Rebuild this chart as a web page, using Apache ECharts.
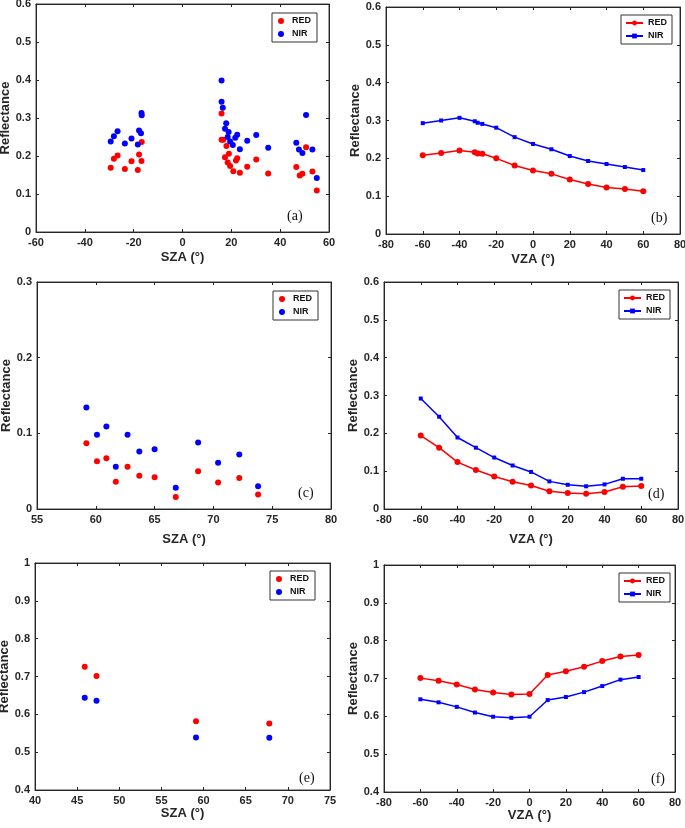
<!DOCTYPE html>
<html>
<head>
<meta charset="utf-8">
<script src="https://cdn.jsdelivr.net/npm/echarts@6/dist/echarts.min.js"></script>
<style>
html,body{margin:0;padding:0;background:#fff;}
#chart{width:685px;height:828px;}
</style>
</head>
<body>
<div id="chart"></div>
<script>
// (a) SZA scatter
var aRedSza = [-29.4,-28.1,-26.6,-23.6,-20.9,-18.3,-17.8,-16.8,-16.7,16.0,16.0,16.7,18.0,17.4,19.0,18.5,19.5,20.8,21.9,22.4,23.5,26.5,30.2,35.1,46.6,48.0,49.1,50.6,53.2,55.0];
var aRedRef = [0.169,0.193,0.201,0.166,0.186,0.163,0.204,0.187,0.237,0.312,0.243,0.243,0.226,0.197,0.206,0.183,0.174,0.160,0.188,0.194,0.156,0.172,0.191,0.154,0.171,0.149,0.153,0.223,0.159,0.109];
var aNirSza = [-29.4,-28.1,-26.6,-23.6,-20.9,-18.3,-17.8,-17.0,-16.8,-16.7,16.0,16.0,16.5,17.9,17.4,18.9,18.5,19.5,20.6,21.6,22.4,23.5,26.5,30.2,35.1,46.6,47.7,49.1,50.6,53.2,55.0];
var aNirRef = [0.238,0.252,0.265,0.233,0.246,0.230,0.267,0.260,0.313,0.307,0.399,0.343,0.327,0.286,0.272,0.263,0.250,0.238,0.229,0.248,0.256,0.218,0.240,0.255,0.222,0.235,0.217,0.208,0.308,0.217,0.142];

// (b) VZA lines
var bVza = [-60,-50,-40,-31.7,-30.1,-27.6,-20,-10,0,10,20,30,40,50,60];
var bRed = [0.208,0.214,0.221,0.216,0.213,0.212,0.200,0.181,0.168,0.159,0.144,0.132,0.123,0.119,0.113];
var bNir = [0.293,0.300,0.307,0.298,0.294,0.291,0.281,0.256,0.238,0.224,0.206,0.193,0.185,0.177,0.169];

// (c) SZA scatter
var cSza = [59.2,60.1,60.9,61.7,62.7,63.7,65.0,66.8,68.7,70.4,72.2,73.8];
var cRed = [0.087,0.063,0.067,0.036,0.056,0.044,0.042,0.016,0.050,0.035,0.041,0.019];
var cNir = [0.134,0.098,0.109,0.056,0.098,0.076,0.079,0.028,0.088,0.061,0.072,0.030];

// (d) VZA lines
var dVza = [-60,-50,-40,-30,-20,-10,0,10,20,30,40,50,60];
var dRed = [0.194,0.162,0.124,0.103,0.086,0.072,0.062,0.047,0.042,0.040,0.045,0.059,0.061];
var dNir = [0.292,0.244,0.189,0.162,0.136,0.115,0.098,0.073,0.064,0.060,0.065,0.080,0.080];

// (e) SZA scatter
var eSza = [45.9,47.3,59.1,67.8];
var eRed = [0.726,0.701,0.582,0.576];
var eNir = [0.644,0.636,0.539,0.538];

// (f) VZA lines
var fVza = [-60,-50,-40,-30,-20,-10,0,10,20,30,40,50,60];
var fRed = [0.701,0.694,0.684,0.671,0.663,0.658,0.659,0.709,0.719,0.731,0.746,0.758,0.762];
var fNir = [0.645,0.637,0.625,0.610,0.599,0.596,0.599,0.643,0.651,0.664,0.680,0.697,0.704];

var chart = echarts.init(document.getElementById('chart'));

var ink = '#262626';
var RED = '#ff0000', BLUE = '#0000ff';

function zip(xs, ys) {
    return xs.map(function (x, i) { return [x, ys[i]]; });
}

// box: [left, top, width, height]
var panels = [
    {key:'a', box:[36,4,293,228], x:[-60,60,20], y:[0,0.6,0.1], xName:'SZA (°)', gap:19, kind:'scatter',
        red:zip(aRedSza,aRedRef), nir:zip(aNirSza,aNirRef), leg:[272,13], tag:[287,209]},
    {key:'b', box:[386,7,294,227], x:[-80,80,20], y:[0,0.6,0.1], xName:'VZA (°)', gap:19, kind:'line',
        red:zip(bVza,bRed), nir:zip(bVza,bNir), leg:[621,15], tag:[651,211]},
    {key:'c', box:[37,282,294,227], x:[55,80,5], y:[0,0.3,0.1], xName:'SZA (°)', gap:24, kind:'scatter',
        red:zip(cSza,cRed), nir:zip(cSza,cNir), leg:[273,291], tag:[298,486]},
    {key:'d', box:[384,282,294,227], x:[-80,80,20], y:[0,0.6,0.1], xName:'VZA (°)', gap:24, kind:'line',
        red:zip(dVza,dRed), nir:zip(dVza,dNir), leg:[619,290], tag:[648,487]},
    {key:'e', box:[35,563,295,227], x:[40,75,5], y:[0.4,1,0.1], xName:'SZA (°)', gap:17, kind:'scatter',
        red:zip(eSza,eRed), nir:zip(eSza,eNir), leg:[270,571], tag:[299,771]},
    {key:'f', box:[384,565,291,227], x:[-80,80,20], y:[0.4,1,0.1], xName:'VZA (°)', gap:17, kind:'line',
        red:zip(fVza,fRed), nir:zip(fVza,fNir), leg:[619,573], tag:[651,772]}
];

var grids = [], xAxes = [], yAxes = [], series = [], legends = [], texts = [];

var tickLabel = {color: ink, fontFamily: 'Liberation Sans', fontWeight: 'bold', fontSize: 11};
var nameStyle = {color: ink, fontFamily: 'Liberation Sans', fontWeight: 'bold', fontSize: 13};
var lineStyle = {show: true, onZero: false, lineStyle: {color: ink, width: 1}};
var tickStyle = {show: true, inside: true, length: 3, lineStyle: {color: ink}};

panels.forEach(function (p, i) {
    grids.push({
        left: p.box[0], top: p.box[1], width: p.box[2], height: p.box[3],
        show: true, borderColor: '#444', borderWidth: 1, backgroundColor: '#fff',
        containLabel: false, outerBoundsMode: 'none'
    });

    // bottom + top x axes (top one only carries the inside ticks)
    xAxes.push({
        type: 'value', gridIndex: i, position: 'bottom',
        min: p.x[0], max: p.x[1], interval: p.x[2],
        name: p.xName, nameLocation: 'middle', nameGap: p.gap, nameTextStyle: nameStyle,
        axisLine: lineStyle, axisTick: tickStyle,
        axisLabel: Object.assign({margin: 5, hideOverlap: false}, tickLabel),
        splitLine: {show: false}
    });
    xAxes.push({
        type: 'value', gridIndex: i, position: 'top',
        min: p.x[0], max: p.x[1], interval: p.x[2],
        axisLine: lineStyle, axisTick: tickStyle,
        axisLabel: {show: false}, splitLine: {show: false}
    });
    yAxes.push({
        type: 'value', gridIndex: i, position: 'left',
        min: p.y[0], max: p.y[1], interval: p.y[2],
        name: 'Reflectance', nameLocation: 'middle', nameGap: 23, nameTextStyle: nameStyle,
        axisLine: lineStyle, axisTick: tickStyle,
        axisLabel: Object.assign({margin: 5, hideOverlap: false}, tickLabel),
        splitLine: {show: false}
    });
    yAxes.push({
        type: 'value', gridIndex: i, position: 'right',
        min: p.y[0], max: p.y[1], interval: p.y[2],
        axisLine: lineStyle, axisTick: tickStyle,
        axisLabel: {show: false}, splitLine: {show: false}
    });

    var redName = 'RED_' + p.key, nirName = 'NIR_' + p.key;
    if (p.kind === 'scatter') {
        series.push({name: redName, type: 'scatter', xAxisIndex: 2 * i, yAxisIndex: 2 * i,
            symbol: 'circle', symbolSize: 6, itemStyle: {color: RED, opacity: 1}, data: p.red});
        series.push({name: nirName, type: 'scatter', xAxisIndex: 2 * i, yAxisIndex: 2 * i,
            symbol: 'circle', symbolSize: 6, itemStyle: {color: BLUE, opacity: 1}, data: p.nir});
    } else {
        series.push({name: redName, type: 'line', xAxisIndex: 2 * i, yAxisIndex: 2 * i,
            symbol: 'circle', symbolSize: 6, showAllSymbol: true,
            lineStyle: {color: RED, width: 1.5}, itemStyle: {color: RED}, data: p.red});
        series.push({name: nirName, type: 'line', xAxisIndex: 2 * i, yAxisIndex: 2 * i,
            symbol: 'rect', symbolSize: 4, showAllSymbol: true,
            lineStyle: {color: BLUE, width: 1.5}, itemStyle: {color: BLUE}, data: p.nir});
    }

    legends.push({
        data: p.kind === 'scatter'
            ? [{name: redName, icon: 'circle'}, {name: nirName, icon: 'circle'}]
            : [redName, nirName],
        orient: 'vertical', left: p.leg[0], top: p.leg[1],
        backgroundColor: '#fff', borderColor: '#333', borderWidth: 1, borderRadius: 0,
        padding: p.kind === 'scatter' ? [3, 6, 3, 6] : [3, 5, 3, 4],
        itemWidth: p.kind === 'scatter' ? 12 : 17,
        itemHeight: 6,
        itemGap: 3,
        selectedMode: false,
        textStyle: {color: '#111', fontFamily: 'Liberation Sans', fontWeight: 'bold', fontSize: 9, lineHeight: 10},
        formatter: function (name) { return name.split('_')[0]; }
    });

    texts.push({
        type: 'text', left: p.tag[0], top: p.tag[1], z: 100,
        style: {text: '(' + p.key + ')', fill: '#111', font: '14px "Liberation Serif"'}
    });
});

var option = {
    backgroundColor: '#fff',
    animation: false,
    grid: grids,
    xAxis: xAxes,
    yAxis: yAxes,
    legend: legends,
    series: series,
    graphic: texts
};

chart.setOption(option);

window.addEventListener('resize', function () {
    chart.resize();
});
</script>
</body>
</html>
